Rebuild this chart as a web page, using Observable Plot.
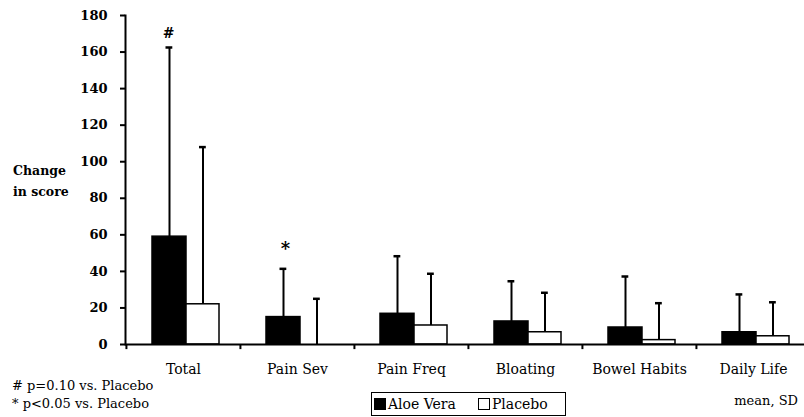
<!DOCTYPE html>
<html><head><meta charset="utf-8">
<script src="https://cdn.jsdelivr.net/npm/d3@7"></script>
<script src="https://cdn.jsdelivr.net/npm/@observablehq/plot@0.6"></script>
<style>
html,body{margin:0;padding:0;background:#fff;overflow:hidden}
#wrap{position:relative;width:804px;height:417px;overflow:hidden}
#wrap svg{position:absolute;left:0;top:0}
.ov{position:absolute;font-family:"DejaVu Serif",serif;color:#000;white-space:nowrap}
.sw{display:inline-block;width:10px;height:10px;border:1.5px solid #000;vertical-align:-1px;margin-right:2px}
</style></head><body><div id="wrap"></div>
<script>
const categories = ["Total", "Pain Sev", "Pain Freq", "Bloating", "Bowel Habits", "Daily Life"];
const series = ["Aloe Vera", "Placebo"];
const aloeMean = [59, 15, 16.8, 12.6, 9.3, 6.7];
const aloeSD = [103.5, 26.4, 31.5, 22, 27.9, 20.7];
const placeboMean = [22, 0, 10.4, 6.7, 2.4, 4.5];
const placeboSD = [86, 25, 28.3, 21.6, 20.2, 18.6];
const yTicks = [0, 20, 40, 60, 80, 100, 120, 140, 160, 180];
const hashNotes = [{category: "Total", series: "Aloe Vera", label: "#"}];
const starNotes = [{category: "Pain Sev", series: "Aloe Vera", label: "*"}];

const rows = [];
categories.forEach((c, i) => {
  rows.push({category: c, series: series[0], mean: aloeMean[i], top: aloeMean[i] + aloeSD[i]});
  rows.push({category: c, series: series[1], mean: placeboMean[i], top: placeboMean[i] + placeboSD[i]});
});
const aloe = rows.filter(d => d.series === series[0]);
const placebo = rows.filter(d => d.series === series[1]);
const topOf = d => rows.find(r => r.category === d.category && r.series === d.series).top;

const font = "DejaVu Serif";
const chart = Plot.plot({
  width: 804, height: 417,
  marginTop: 15, marginBottom: 73, marginLeft: 125, marginRight: 0,
  x: {domain: categories, range: [125, 810], padding: 0},
  y: {domain: [0, 180], range: [344, 15]},
  style: {fontFamily: font, background: "transparent", color: "#000"},
  marks: [
    Plot.barY(aloe, {x: "category", y: "mean", fill: "#000", stroke: "#000", strokeWidth: 1.5, insetLeft: 26, insetRight: 54}),
    Plot.barY(placebo, {x: "category", y: "mean", fill: "#fff", stroke: "#000", strokeWidth: 1.5, insetLeft: 60, insetRight: 21}),
    Plot.ruleX(aloe, {x: "category", y1: "mean", y2: "top", dx: -14, stroke: "#000", strokeWidth: 2}),
    Plot.ruleX(placebo, {x: "category", y1: "mean", y2: "top", dx: 19.5, stroke: "#000", strokeWidth: 2}),
    Plot.tickY(aloe, {x: "category", y: "top", insetLeft: 39.5, insetRight: 67.7, stroke: "#000", strokeWidth: 2.5}),
    Plot.tickY(placebo, {x: "category", y: "top", insetLeft: 73, insetRight: 34.2, stroke: "#000", strokeWidth: 2.5}),
    Plot.ruleY([0], {stroke: "#000", strokeWidth: 2}),
    Plot.frame({anchor: "left", stroke: "#000", strokeWidth: 2}),
    Plot.ruleX(categories, {x: d => d, dx: -57.08, y1: 0, y2: -2.8, stroke: "#000", strokeWidth: 2}),
    Plot.axisY(yTicks, {tickSize: 5, tickPadding: 13, fontSize: 13, fontWeight: "bold", strokeWidth: 2, label: null}),
    Plot.axisX({tickSize: 0, tickPadding: 20, fontSize: 14, label: null}),
    Plot.text(hashNotes, {x: "category", y: topOf, text: "label", dx: -15, dy: -14, fontSize: 14, fontWeight: "bold"}),
    Plot.text(starNotes, {x: "category", y: topOf, text: "label", dx: -12, dy: -20, fontSize: 18, fontWeight: "bold"})
  ]
});
const wrap = document.getElementById("wrap");
wrap.appendChild(chart);

function ov(html, css) {
  const d = document.createElement("div");
  d.className = "ov";
  d.innerHTML = html;
  Object.assign(d.style, css);
  wrap.appendChild(d);
  return d;
}
ov("Change<br>in score", {left: "13px", top: "160px", fontSize: "12.5px", fontWeight: "bold", lineHeight: "21px"});
ov("# p=0.10 vs. Placebo<br>* p&lt;0.05 vs. Placebo", {left: "12px", top: "377px", fontSize: "13px", lineHeight: "18px"});
ov("mean, SD", {right: "6px", top: "393px", fontSize: "13px"});
ov('<span class="sw" style="background:#000"></span>' + series[0] +
   '<span class="sw" style="background:#fff;margin-left:22px"></span>' + series[1],
   {left: "371px", top: "392px", width: "189px", height: "20px", border: "1.5px solid #000", padding: "1px 2px", fontSize: "14px", lineHeight: "20px"});
</script></body></html>
